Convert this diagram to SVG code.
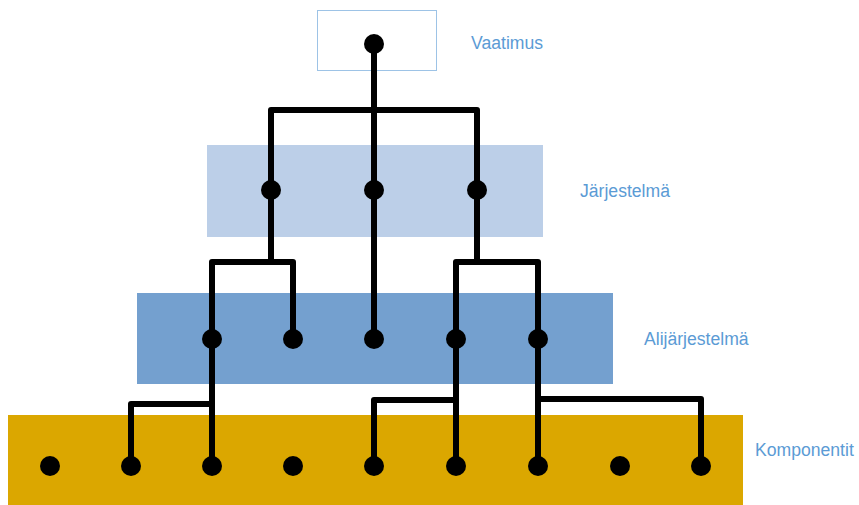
<svg xmlns="http://www.w3.org/2000/svg" width="859" height="505" viewBox="0 0 859 505">
  <style>
    .wire { fill: none; stroke: #000; stroke-width: 6; stroke-linejoin: round; stroke-linecap: butt; }
    .dot { fill: #000; }
    .label { font-family: "Liberation Sans", Arial, sans-serif; font-size: 17.6px; fill: #5b9bd5; }
  </style>

  <!-- level bands -->
  <g id="vaatimus">
    <rect x="317.5" y="10.5" width="119" height="60" fill="#fff" stroke="#9dc3e6" stroke-width="1"/>
    <text class="label" x="471" y="49">Vaatimus</text>
  </g>
  <g id="jarjestelma">
    <rect x="207" y="145" width="336" height="92" fill="#bccfe8"/>
    <text class="label" x="580" y="197">Järjestelmä</text>
  </g>
  <g id="alijarjestelma">
    <rect x="137" y="293" width="476" height="91" fill="#74a0cf"/>
    <text class="label" x="644" y="345">Alijärjestelmä</text>
  </g>
  <g id="komponentit">
    <rect x="8" y="415" width="735" height="90" fill="#dba700"/>
    <text class="label" x="755" y="456">Komponentit</text>
  </g>

  <!-- connectors -->
  <g id="connectors">
    <path class="wire" d="M374,44 V339"/>
    <path class="wire" d="M271,190 V110 H477 V190"/>
    <path class="wire" d="M271,190 V262"/>
    <path class="wire" d="M212,339 V262 H293 V339"/>
    <path class="wire" d="M477,190 V262"/>
    <path class="wire" d="M456,339 V262 H538 V339"/>
    <path class="wire" d="M212,339 V466"/>
    <path class="wire" d="M131,466 V404 H212"/>
    <path class="wire" d="M456,339 V466"/>
    <path class="wire" d="M374,466 V400 H456"/>
    <path class="wire" d="M538,339 V466"/>
    <path class="wire" d="M538,399 H701 V466"/>
  </g>

  <!-- requirement node -->
  <g id="n-req"><circle class="dot" cx="374" cy="44" r="10"/></g>

  <!-- system nodes -->
  <g id="n-s1"><circle class="dot" cx="271" cy="190" r="10"/></g>
  <g id="n-s2"><circle class="dot" cx="374" cy="190" r="10"/></g>
  <g id="n-s3"><circle class="dot" cx="477" cy="190" r="10"/></g>

  <!-- subsystem nodes -->
  <g id="n-ss1"><circle class="dot" cx="212" cy="339" r="10"/></g>
  <g id="n-ss2"><circle class="dot" cx="293" cy="339" r="10"/></g>
  <g id="n-ss3"><circle class="dot" cx="374" cy="339" r="10"/></g>
  <g id="n-ss4"><circle class="dot" cx="456" cy="339" r="10"/></g>
  <g id="n-ss5"><circle class="dot" cx="538" cy="339" r="10"/></g>

  <!-- component nodes -->
  <g id="n-c1"><circle class="dot" cx="50" cy="466" r="10"/></g>
  <g id="n-c2"><circle class="dot" cx="131" cy="466" r="10"/></g>
  <g id="n-c3"><circle class="dot" cx="212" cy="466" r="10"/></g>
  <g id="n-c4"><circle class="dot" cx="293" cy="466" r="10"/></g>
  <g id="n-c5"><circle class="dot" cx="374" cy="466" r="10"/></g>
  <g id="n-c6"><circle class="dot" cx="456" cy="466" r="10"/></g>
  <g id="n-c7"><circle class="dot" cx="538" cy="466" r="10"/></g>
  <g id="n-c8"><circle class="dot" cx="620" cy="466" r="10"/></g>
  <g id="n-c9"><circle class="dot" cx="701" cy="466" r="10"/></g>
</svg>
